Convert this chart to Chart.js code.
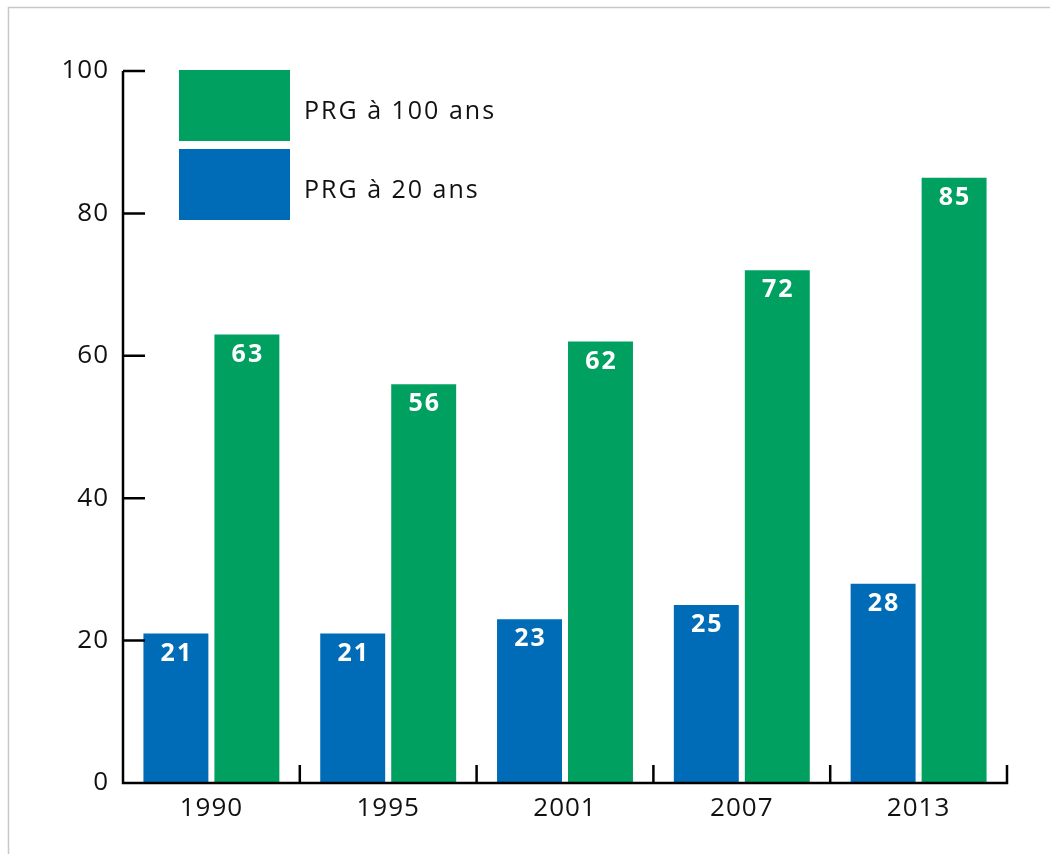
<!DOCTYPE html>
<html>
<head>
<meta charset="utf-8">
<script src="https://cdn.jsdelivr.net/npm/chart.js@4/dist/chart.umd.min.js"></script>
<style>
  html, body { margin: 0; padding: 0; background: #fff; }
  #wrap { width: 1050px; height: 854px; position: relative; }
</style>
</head>
<body>
<div id="wrap"><canvas id="c" width="1050" height="854"></canvas></div>
<script>
const categories = ['1990', '1995', '2001', '2007', '2013'];
const prg20 = [21, 21, 23, 25, 28];
const prg100 = [63, 56, 62, 72, 85];
const yTicks = [0, 20, 40, 60, 80, 100];
const seriesLabels = ['PRG à 20 ans', 'PRG à 100 ans'];
const BLUE = '#006CB7';
const GREEN = '#00A060';
const FONT = '"Open Sans", Lato, sans-serif';

const framePlugin = {
  id: 'frame',
  beforeDraw(chart) {
    const ctx = chart.ctx;
    ctx.save();
    ctx.strokeStyle = '#c8c8c8';
    ctx.lineWidth = 1.5;
    ctx.beginPath();
    ctx.moveTo(8.5, 854);
    ctx.lineTo(8.5, 7.5);
    ctx.lineTo(1050, 7.5);
    ctx.stroke();
    ctx.restore();
    ctx.letterSpacing = '1px';
  }
};

const axesPlugin = {
  id: 'customAxes',
  afterDatasetsDraw(chart) {
    const ctx = chart.ctx;
    const ca = chart.chartArea;
    const xs = chart.scales.x, ys = chart.scales.y;
    ctx.save();
    ctx.strokeStyle = '#000';
    ctx.lineWidth = 2.5;
    ctx.lineCap = 'butt';
    ctx.beginPath();
    ctx.moveTo(ca.left, ys.getPixelForValue(100));
    ctx.lineTo(ca.left, ys.getPixelForValue(0) + 1.25);
    ctx.moveTo(ca.left - 1.25, ys.getPixelForValue(0));
    ctx.lineTo(ca.right, ys.getPixelForValue(0));
    yTicks.forEach(v => {
      if (v === 0) return;
      const y = ys.getPixelForValue(v);
      ctx.moveTo(ca.left, y);
      ctx.lineTo(ca.left + 22, y);
    });
    const half = (xs.getPixelForValue(1) - xs.getPixelForValue(0)) / 2;
    categories.forEach((c, i) => {
      const x = xs.getPixelForValue(i) + half;
      const y0 = ys.getPixelForValue(0);
      ctx.moveTo(x, y0 + 1.25);
      ctx.lineTo(x, y0 - 18);
    });
    ctx.stroke();
    ctx.restore();
  }
};

const valueLabelPlugin = {
  id: 'valueLabels',
  afterDatasetsDraw(chart) {
    const ctx = chart.ctx;
    ctx.save();
    ctx.fillStyle = '#fff';
    ctx.font = 'bold 25px ' + FONT;
    ctx.letterSpacing = '2px';
    ctx.textAlign = 'center';
    ctx.textBaseline = 'middle';
    chart.data.datasets.forEach((ds, di) => {
      const meta = chart.getDatasetMeta(di);
      meta.data.forEach((el, i) => {
        ctx.fillText(String(ds.data[i]), el.x + 1, el.y + 20);
      });
    });
    ctx.restore();
  }
};

const legendPlugin = {
  id: 'customLegend',
  afterDraw(chart) {
    const ctx = chart.ctx;
    const ds = chart.data.datasets;
    const order = [1, 0];
    ctx.save();
    ctx.font = '25px ' + FONT;
    ctx.letterSpacing = '2px';
    ctx.textBaseline = 'middle';
    ctx.textAlign = 'left';
    order.forEach((di, k) => {
      const top = 70 + k * 79;
      ctx.fillStyle = ds[di].backgroundColor;
      ctx.fillRect(179, top, 111, 71);
      ctx.fillStyle = '#111';
      ctx.fillText(ds[di].label, 304, top + 42);
    });
    ctx.restore();
  }
};

new Chart(document.getElementById('c'), {
  type: 'bar',
  data: {
    labels: categories,
    datasets: [
      { label: seriesLabels[0], data: prg20, backgroundColor: BLUE, borderWidth: 0 },
      { label: seriesLabels[1], data: prg100, backgroundColor: GREEN, borderWidth: 0 }
    ]
  },
  options: {
    responsive: false,
    animation: false,
    events: [],
    layout: { padding: { left: 0, right: 43, top: 71, bottom: 0 } },
    plugins: { legend: { display: false }, tooltip: { enabled: false } },
    datasets: { bar: { categoryPercentage: 0.803, barPercentage: 0.915 } },
    scales: {
      x: {
        grid: { display: false, drawTicks: false },
        border: { display: false },
        ticks: { color: '#111', font: { family: FONT, size: 26 }, padding: 10 },
        afterFit(s) { s.height = 71; }
      },
      y: {
        min: 0, max: 100,
        afterBuildTicks(s) { s.ticks = yTicks.map(v => ({ value: v })); },
        grid: { display: false, drawTicks: false },
        border: { display: false },
        ticks: { color: '#111', font: { family: FONT, size: 26 }, padding: 14 },
        afterFit(s) { s.width = 123; }
      }
    }
  },
  plugins: [framePlugin, axesPlugin, valueLabelPlugin, legendPlugin]
});
</script>
</body>
</html>
